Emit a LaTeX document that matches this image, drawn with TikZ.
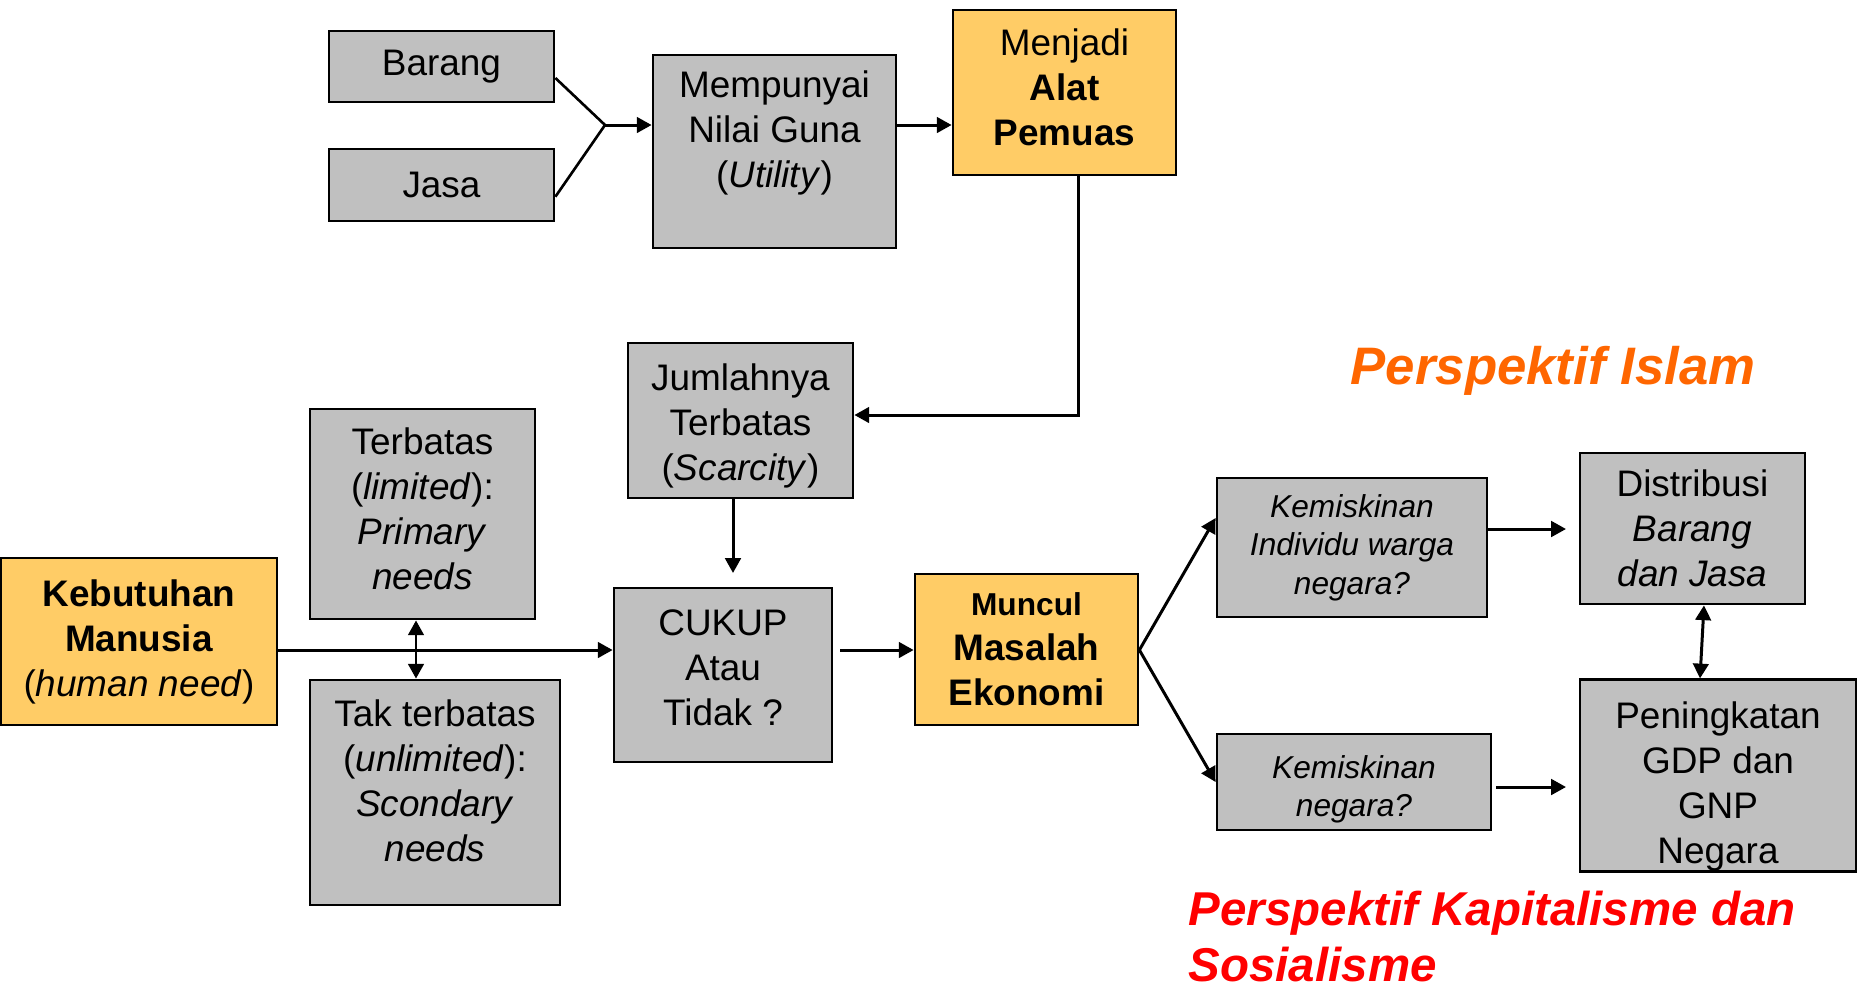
\documentclass[tikz,border=0pt]{standalone}
\usepackage{fontspec}
\setmainfont{Liberation Sans}
\usetikzlibrary{arrows.meta}
\definecolor{abu}{RGB}{192,192,192}
\definecolor{kuning}{RGB}{255,204,102}
\definecolor{oranye}{RGB}{255,102,0}

\begin{document}
\begin{tikzpicture}[x=0.01cm,y=-0.01cm,
    box/.style={draw,fill=abu,line width=0.75pt,align=center,inner sep=0pt,
      font=\fontsize{10.5}{12.8}\selectfont},
    hot/.style={box,fill=kuning},
    kecil/.style={font=\fontsize{9}{11}\selectfont\itshape},
    arr/.style={-{Triangle[length=4.2pt,width=4.4pt]},line width=0.85pt},
    dbl/.style={{Triangle[length=4.2pt,width=4.4pt]}-{Triangle[length=4.2pt,width=4.4pt]},line width=0.85pt}]
  \useasboundingbox (0,0) rectangle (1863,987);

  % atas
  \node[box,minimum width=2.25cm,minimum height=0.71cm] (barang) at (441.5,66.5) {Barang};
  \node[box,minimum width=2.25cm,minimum height=0.72cm] (jasa) at (441.5,185) {Jasa};
  \node[box,minimum width=2.43cm,minimum height=1.93cm] (guna) at (774.5,151.5)
    {Mempunyai\\Nilai Guna\\(\textit{Utility})\\\mbox{}};
  \node[hot,minimum width=2.23cm,minimum height=1.65cm] (pemuas) at (1064.5,92.5)
    {Menjadi\\\textbf{Alat}\\\textbf{Pemuas}\\[-10pt]\mbox{}};

  % tengah
  \node[box,minimum width=2.25cm,minimum height=1.55cm] (jumlah) at (740.5,420.5)
    {\mbox{}\\[-2.3pt]Jumlahnya\\Terbatas\\(\textit{Scarcity})};
  \node[box,minimum width=2.25cm,minimum height=2.10cm] (terbatas) at (422.5,514)
    {Terbatas\\(\textit{limited}):\\\textit{Primary}\\\textit{needs}\\[-10pt]\mbox{}};
  \node[hot,minimum width=2.76cm,minimum height=1.67cm] (kebutuhan) at (139,641.5)
    {\textbf{Kebutuhan}\\\textbf{Manusia}\\(\textit{human need})};
  \node[box,minimum width=2.50cm,minimum height=2.25cm] (takterbatas) at (435,792.5)
    {Tak terbatas\\(\textit{unlimited}):\\\textit{Scondary}\\\textit{needs}\\[-6pt]\mbox{}};
  \node[box,minimum width=2.18cm,minimum height=1.74cm] (cukup) at (723,675)
    {CUKUP\\Atau\\Tidak ?\\[-8.8pt]\mbox{}};
  \node[hot,minimum width=2.23cm,minimum height=1.51cm] (masalah) at (1026.5,649.5)
    {\fontsize{9}{12}\selectfont\textbf{Muncul}\\\fontsize{10.5}{12.4}\selectfont\textbf{Masalah}\\\textbf{Ekonomi}};

  % kanan
  \node[box,kecil,minimum width=2.70cm,minimum height=1.39cm] (miskinind) at (1352,547.5)
    {Kemiskinan\\Individu warga\\negara?};
  \node[box,kecil,minimum width=2.74cm,minimum height=0.96cm] (miskinneg) at (1354,782)
    {\mbox{}\\[-0.4pt]Kemiskinan\\negara?};
  \node[box,minimum width=2.25cm,minimum height=1.51cm] (distribusi) at (1692.5,528.5)
    {Distribusi\\\textit{Barang}\\\textit{dan Jasa}};
  \node[box,minimum width=2.76cm,minimum height=1.89cm] (gdp) at (1718,775.5)
    {\mbox{}\\[1.1pt]Peningkatan\\GDP dan\\GNP\\Negara};

  \node[inner sep=0pt,anchor=north west,text=oranye,
    font=\fontsize{15}{18}\selectfont\bfseries\itshape] (islam) at (1350,346) {Perspektif Islam};
  \node[inner sep=0pt,anchor=north west,text=red,align=left,
    font=\fontsize{13.5}{15.9}\selectfont\bfseries\itshape] (kapitalis) at (1188,890)
    {Perspektif Kapitalisme dan\\Sosialisme};

  % panah
  \coordinate (gabung) at (605,125);
  \draw[line width=0.75pt] ([yshift=-0.115cm]barang.east) -- (gabung) -- ([yshift=-0.117cm]jasa.east);
  \draw[arr] (gabung) -- (guna.west |- gabung);
  \draw[arr] (guna.east |- gabung) -- (pemuas.west |- gabung);
  \coordinate (belok) at (1078,415);
  \draw[arr] (pemuas.south -| belok) -- (belok) -- (jumlah.east |- belok);
  \coordinate (masuk) at (733,573);
  \draw[arr] (jumlah.south -| masuk) -- (masuk);
  \coordinate (garis) at (0,650);
  \draw[arr] (kebutuhan.east |- garis) -- (cukup.west |- garis);
  \coordinate (tengah) at (416,0);
  \draw[dbl] (terbatas.south -| tengah) -- (takterbatas.north -| tengah);
  \coordinate (keluar) at (840,650);
  \draw[arr] (keluar) -- (masalah.west |- keluar);
  \coordinate (atas) at (0,518);
  \coordinate (bawah) at (0,782);
  \draw[arr] (masalah.east |- garis) -- (miskinind.west |- atas);
  \draw[arr] (masalah.east |- garis) -- (miskinneg.west |- bawah);
  \coordinate (ujung1) at (1566,529);
  \draw[arr] (miskinind.east |- ujung1) -- (ujung1);
  \coordinate (ujung2) at (1566,787);
  \draw[arr] ([xshift=0.04cm]miskinneg.east |- ujung2) -- (ujung2);
  \coordinate (a1) at (1704,0);
  \coordinate (a2) at (1700,0);
  \draw[dbl] (distribusi.south -| a1) -- (gdp.north -| a2);
\end{tikzpicture}
\end{document}
